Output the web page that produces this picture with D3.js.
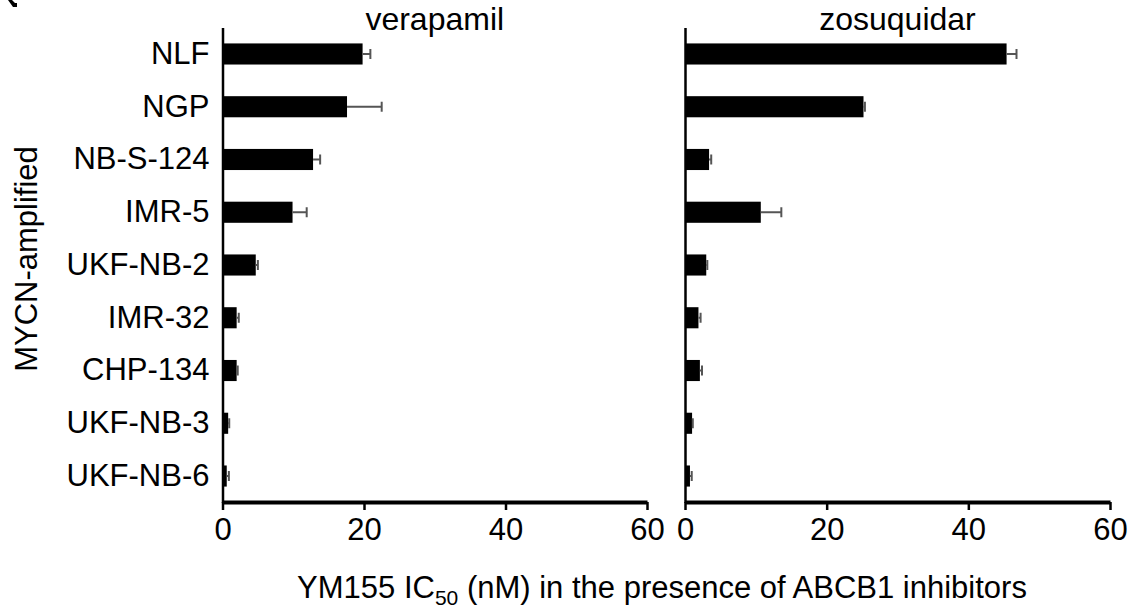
<!DOCTYPE html>
<html>
<head>
<meta charset="utf-8">
<script src="https://cdn.jsdelivr.net/npm/d3@7"></script>
<style>
  html, body { margin: 0; padding: 0; background: #fff; }
  svg { display: block; font-family: "Liberation Sans", Arial, sans-serif; }
</style>
</head>
<body>
<svg id="chart" width="1130" height="610"></svg>
<script>
const categories = ["NLF", "NGP", "NB-S-124", "IMR-5", "UKF-NB-2", "IMR-32", "CHP-134", "UKF-NB-3", "UKF-NB-6"];
const verapamil = [19.8, 17.6, 12.8, 9.9, 4.7, 2.0, 2.0, 0.8, 0.6];
const verapamilErr = [1.1, 4.9, 1.0, 2.0, 0.3, 0.3, 0.15, 0.15, 0.3];
const zosuquidar = [45.4, 25.2, 3.4, 10.7, 3.0, 1.9, 2.1, 1.0, 0.7];
const zosuquidarErr = [1.4, 0.2, 0.3, 2.9, 0.15, 0.3, 0.3, 0.1, 0.25];
const panelTitles = ["verapamil", "zosuquidar"];
const xTicks = [0, 20, 40, 60];
const yTitle = "MYCN-amplified";

const svg = d3.select("#chart");
const FONT = 31;
const TITLE_FONT = 32;

const y = d3.scaleBand().domain(categories).range([27.6, 502.4]).paddingInner(0.6).paddingOuter(0.3);

const panels = [
  { title: panelTitles[0], values: verapamil, errs: verapamilErr, x0: 222.5, x1: 647, labels: true },
  { title: panelTitles[1], values: zosuquidar, errs: zosuquidarErr, x0: 685, x1: 1110, labels: false }
];

panels.forEach(p => {
  const x = d3.scaleLinear().domain([0, 60]).range([p.x0, p.x1]);
  const g = svg.append("g");

  // bars
  g.selectAll("rect.bar").data(categories).enter().append("rect")
    .attr("class", "bar")
    .attr("x", x(0))
    .attr("y", d => y(d))
    .attr("width", (d, i) => x(p.values[i]) - x(0))
    .attr("height", y.bandwidth())
    .attr("fill", "#000");

  // error bars (one-sided)
  const eg = g.selectAll("g.err").data(categories).enter().append("g").attr("class", "err");
  eg.append("line")
    .attr("x1", (d, i) => x(p.values[i]))
    .attr("x2", (d, i) => x(p.values[i] + p.errs[i]))
    .attr("y1", d => y(d) + y.bandwidth() / 2)
    .attr("y2", d => y(d) + y.bandwidth() / 2)
    .attr("stroke", "#555").attr("stroke-width", 2);
  eg.append("line")
    .attr("x1", (d, i) => x(p.values[i] + p.errs[i]))
    .attr("x2", (d, i) => x(p.values[i] + p.errs[i]))
    .attr("y1", d => y(d) + y.bandwidth() / 2 - 5)
    .attr("y2", d => y(d) + y.bandwidth() / 2 + 5)
    .attr("stroke", "#555").attr("stroke-width", 2);

  // y axis
  const yAxis = d3.axisLeft(y).tickSize(0).tickPadding(13);
  if (!p.labels) yAxis.tickFormat("");
  const ya = g.append("g").attr("transform", `translate(${x(0)},0)`).call(yAxis);
  ya.select(".domain").attr("stroke", "#000").attr("stroke-width", 2.5);
  ya.selectAll("text").attr("font-size", FONT).attr("fill", "#000")
    .attr("font-family", "'Liberation Sans', Arial, sans-serif");

  // x axis
  const xAxis = d3.axisBottom(x).tickValues(xTicks).tickSize(8).tickSizeOuter(0).tickPadding(8).tickFormat(d3.format("d"));
  const xa = g.append("g").attr("transform", `translate(0,502)`).call(xAxis);
  xa.select(".domain").attr("stroke", "#000").attr("stroke-width", 4);
  xa.selectAll(".tick line").attr("stroke", "#000").attr("stroke-width", 2.5);
  xa.selectAll("text").attr("font-size", FONT).attr("fill", "#000")
    .attr("font-family", "'Liberation Sans', Arial, sans-serif");

  // panel title
  g.append("text")
    .attr("x", (p.x0 + p.x1) / 2)
    .attr("y", 30)
    .attr("text-anchor", "middle")
    .attr("font-size", TITLE_FONT)
    .text(p.title);
});

// y title
svg.append("text")
  .attr("transform", "translate(37,259) rotate(-90)")
  .attr("text-anchor", "middle")
  .attr("font-size", FONT)
  .text(yTitle);

// x title with subscript
const xt = svg.append("text")
  .attr("x", 662)
  .attr("y", 598)
  .attr("text-anchor", "middle")
  .attr("font-size", FONT);
xt.append("tspan").text("YM155 IC");
xt.append("tspan").attr("font-size", 21).attr("dy", 7).text("50");
xt.append("tspan").attr("dy", -7).text(" (nM) in the presence of ABCB1 inhibitors");

// fragment of a cropped panel letter at the top-left corner
svg.append("path")
  .attr("d", "M8,0 L12,0 L15,3 L17,3 L17,7 L13,7 Z")
  .attr("fill", "#000");
</script>
</body>
</html>
